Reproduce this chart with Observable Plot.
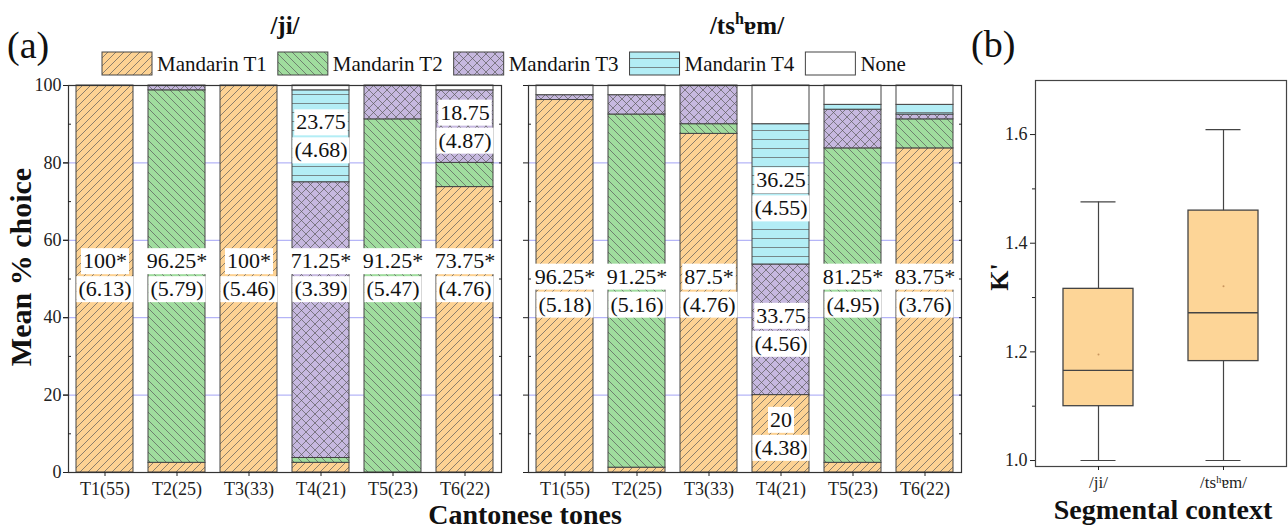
<!DOCTYPE html>
<html>
<head>
<meta charset="utf-8">
<script src="https://cdn.jsdelivr.net/npm/d3@7"></script>
<script src="https://cdn.jsdelivr.net/npm/@observablehq/plot@0.6"></script>
<style>
  body { margin: 0; background: #fff; }
  #root { position: relative; width: 1288px; height: 530px; font-family: 'Liberation Serif', 'Times New Roman', serif; }
  #root > svg { position: absolute; top: 0; }
  #root svg text, #root svg tspan { font-family: 'Liberation Serif', 'Times New Roman', serif !important; }
</style>
</head>
<body>
<div id="root"></div>
<script>
// ---------- DATA ----------
const panels = ["ji", "tsem"];
const tones = ["T1(55)", "T2(25)", "T3(33)", "T4(21)", "T5(23)", "T6(22)"];
const seriesNames = ["Mandarin T1", "Mandarin T2", "Mandarin T3", "Mandarin T4", "None"];

// /ji/ panel: mean % choice per Cantonese tone
const jiMandarinT1 = [100, 2.5, 100, 2.5, 0, 73.75];
const jiMandarinT2 = [0, 96.25, 0, 1.25, 91.25, 6.25];
const jiMandarinT3 = [0, 1.25, 0, 71.25, 8.75, 18.75];
const jiMandarinT4 = [0, 0, 0, 23.75, 0, 0];
const jiNone       = [0, 0, 0, 1.25, 0, 1.25];

// /tsʰɐm/ panel
const tsemMandarinT1 = [96.25, 1.25, 87.5, 20, 2.5, 83.75];
const tsemMandarinT2 = [0, 91.25, 2.5, 0, 81.25, 7.5];
const tsemMandarinT3 = [1.25, 5, 10, 33.75, 10, 1.25];
const tsemMandarinT4 = [0, 0, 0, 36.25, 1.25, 2.5];
const tsemNone       = [2.5, 2.5, 0, 10, 5, 5];

// labels: [tone, series, mean text, (sd) text]
const jiLabels = [
  ["T1(55)", "Mandarin T1", "100*", "(6.13)"],
  ["T2(25)", "Mandarin T2", "96.25*", "(5.79)"],
  ["T3(33)", "Mandarin T1", "100*", "(5.46)"],
  ["T4(21)", "Mandarin T3", "71.25*", "(3.39)"],
  ["T4(21)", "Mandarin T4", "23.75", "(4.68)"],
  ["T5(23)", "Mandarin T2", "91.25*", "(5.47)"],
  ["T6(22)", "Mandarin T1", "73.75*", "(4.76)"],
  ["T6(22)", "Mandarin T3", "18.75", "(4.87)"]
];
const tsemLabels = [
  ["T1(55)", "Mandarin T1", "96.25*", "(5.18)"],
  ["T2(25)", "Mandarin T2", "91.25*", "(5.16)"],
  ["T3(33)", "Mandarin T1", "87.5*", "(4.76)"],
  ["T4(21)", "Mandarin T4", "36.25", "(4.55)"],
  ["T4(21)", "Mandarin T3", "33.75", "(4.56)"],
  ["T4(21)", "Mandarin T1", "20", "(4.38)"],
  ["T5(23)", "Mandarin T2", "81.25*", "(4.95)"],
  ["T6(22)", "Mandarin T1", "83.75*", "(3.76)"]
];
// value level at which the starred (majority) labels sit in each panel
const mainLabelAt = {ji: 51, tsem: 47};

// panel (b): K' box plot summary
const boxContexts = ["/ji/", "/tsʰɐm/"];
const boxMin    = [1.0, 1.0];
const boxQ1     = [1.100, 1.183];
const boxMedian = [1.166, 1.272];
const boxQ3     = [1.316, 1.460];
const boxMax    = [1.476, 1.609];
const boxMean   = [1.195, 1.321];

// ---------- BUILD TABLES ----------
const panelSeries = {
  ji: [jiMandarinT1, jiMandarinT2, jiMandarinT3, jiMandarinT4, jiNone],
  tsem: [tsemMandarinT1, tsemMandarinT2, tsemMandarinT3, tsemMandarinT4, tsemNone]
};
const rows = [];
for (const p of panels) {
  tones.forEach((t, ti) => {
    seriesNames.forEach((s, si) => {
      const v = panelSeries[p][si][ti];
      if (v > 0) rows.push({panel: p, tone: t, series: s, value: v});
    });
  });
}
function segmentMid(p, tone, series) {
  const ti = tones.indexOf(tone);
  let start = 0;
  for (let si = 0; si < seriesNames.length; si++) {
    const v = panelSeries[p][si][ti];
    if (seriesNames[si] === series) return start + v / 2;
    start += v;
  }
  return 50;
}
const labelRows = [];
for (const [p, list] of [["ji", jiLabels], ["tsem", tsemLabels]]) {
  for (const [tone, series, mean, sd] of list) {
    const y = mean.endsWith("*") ? mainLabelAt[p] : segmentMid(p, tone, series);
    labelRows.push({panel: p, tone, series, mean, sd, y});
  }
}
const boxRows = boxContexts.map((c, i) => ({
  ctx: c, min: boxMin[i], q1: boxQ1[i], median: boxMedian[i], q3: boxQ3[i], max: boxMax[i], mean: boxMean[i]
}));

// ---------- PATTERNS ----------
const svgNS = "http://www.w3.org/2000/svg";
const root = document.getElementById("root");
const defsSvg = document.createElementNS(svgNS, "svg");
defsSvg.setAttribute("width", 0); defsSvg.setAttribute("height", 0);
defsSvg.style.left = "0px";
defsSvg.innerHTML = `
<defs>
  <pattern id="patT1" patternUnits="userSpaceOnUse" width="8" height="8">
    <rect width="8" height="8" fill="#fdd293"/>
    <path d="M-1,1 l2,-2 M0,8 l8,-8 M7,9 l2,-2" stroke="#5a5a5a" stroke-width="0.7"/>
  </pattern>
  <pattern id="patT2" patternUnits="userSpaceOnUse" width="8" height="8">
    <rect width="8" height="8" fill="#a0dc9e"/>
    <path d="M-1,7 l2,2 M0,0 l8,8 M7,-1 l2,2" stroke="#5a5a5a" stroke-width="0.7"/>
  </pattern>
  <pattern id="patT3" patternUnits="userSpaceOnUse" width="9" height="9">
    <rect width="9" height="9" fill="#c6b8df"/>
    <path d="M0,0 L9,9 M9,0 L0,9" stroke="#5a5a5a" stroke-width="0.7"/>
  </pattern>
  <pattern id="patT4" patternUnits="userSpaceOnUse" width="10" height="9">
    <rect width="10" height="9" fill="#b3edf5"/>
    <path d="M0,4.5 H10" stroke="#5a5a5a" stroke-width="0.7"/>
  </pattern>
</defs>`;
root.appendChild(defsSvg);
const seriesFills = ["url(#patT1)", "url(#patT2)", "url(#patT3)", "url(#patT4)", "white"];

const fontFamily = "Liberation Serif, Times New Roman, serif";

// ---------- PANEL (a) ----------
const chartA = Plot.plot({
  width: 975, height: 530,
  marginLeft: 68, marginRight: 14, marginTop: 85, marginBottom: 58,
  style: {fontFamily, fontSize: "18px", color: "#222", background: "transparent", overflow: "visible"},
  fx: {domain: panels, paddingInner: 0.0587, paddingOuter: 0, axis: null, label: null},
  x: {domain: tones, paddingInner: 0.205, paddingOuter: 0.1, label: null},
  y: {domain: [0, 100], label: null},
  color: {domain: seriesNames, range: seriesFills},
  marks: [
    Plot.gridY([20, 40, 60, 80, 100], {stroke: "#a3a3f5", strokeOpacity: 1}),
    Plot.barY(rows, {fx: "panel", x: "tone", y: "value", fill: "series", stroke: "#444", strokeWidth: 1}),
    Plot.text(labelRows, {fx: "panel", x: "tone", y: "y", text: "mean", dy: -14, fontSize: 22, fill: "#111"}),
    Plot.text(labelRows, {fx: "panel", x: "tone", y: "y", text: "sd", dy: 14, fontSize: 22, fill: "#111"}),
    Plot.frame({stroke: "#333", strokeWidth: 1.2}),
    Plot.axisY({ticks: [0, 20, 40, 60, 80, 100], tickSize: 5, tickPadding: 2, anchor: "left", label: null, fontSize: 18}),
    Plot.axisY({ticks: [0, 20, 40, 60, 80, 100], tickSize: 5, anchor: "left", fill: "none", label: null, facetAnchor: null}),
    Plot.axisY({ticks: [10, 30, 50, 70, 90], tickSize: 3, dx: 3, anchor: "left", fill: "none", label: null, facetAnchor: null}),
    Plot.axisY({ticks: [10, 20, 30, 40, 50, 60, 70, 80, 90], tickSize: 3, dx: -3, anchor: "right", fill: "none", label: null, facetAnchor: null}),
    Plot.axisX({tickSize: 4, tickPadding: 6, label: null, fontSize: 18})
  ]
});
chartA.style.left = "0px";
root.appendChild(chartA);

// white boxes behind the value labels
chartA.querySelectorAll('g[aria-label="text"] text').forEach(t => {
  const b = t.getBBox();
  const r = document.createElementNS(svgNS, "rect");
  r.setAttribute("x", b.x - 2);
  r.setAttribute("y", b.y);
  r.setAttribute("width", b.width + 4);
  r.setAttribute("height", b.height + 1);
  r.setAttribute("fill", "white");
  r.setAttribute("stroke", "none");
  const tr = t.getAttribute("transform");
  if (tr) r.setAttribute("transform", tr);
  t.parentNode.insertBefore(r, t);
});

// ---------- PANEL (b) ----------
const chartB = Plot.plot({
  width: 313, height: 530,
  marginLeft: 60, marginRight: 2, marginTop: 80, marginBottom: 64,
  style: {fontFamily, fontSize: "17px", color: "#222", background: "transparent", overflow: "visible"},
  x: {domain: boxContexts, paddingInner: 0.44, paddingOuter: 0.224, label: null},
  y: {domain: [0.989, 1.6995], label: null},
  marks: [
    Plot.ruleX(boxRows, {x: "ctx", y1: "min", y2: "max", stroke: "#444", strokeWidth: 1.2}),
    Plot.barY(boxRows, {x: "ctx", y1: "q1", y2: "q3", fill: "#fdd597", stroke: "#444", strokeWidth: 1.3}),
    Plot.tickY(boxRows, {x: "ctx", y: "median", stroke: "#444", strokeWidth: 1.3}),
    Plot.tickY(boxRows, {x: "ctx", y: "min", stroke: "#444", strokeWidth: 1.2, insetLeft: 17.5, insetRight: 17.5}),
    Plot.tickY(boxRows, {x: "ctx", y: "max", stroke: "#444", strokeWidth: 1.2, insetLeft: 17.5, insetRight: 17.5}),
    Plot.dot(boxRows, {x: "ctx", y: "mean", r: 1, fill: "#c9965f", stroke: "none"}),
    Plot.frame({stroke: "#444", strokeWidth: 1.2}),
    Plot.axisY({ticks: [1.0, 1.2, 1.4, 1.6], tickFormat: ".1f", tickSize: 5, tickPadding: 3, label: null, fontSize: 18}),
    Plot.axisY({ticks: [1.1, 1.3, 1.5], tickSize: 3, fill: "none", label: null}),
    Plot.axisX({tickSize: 4, tickPadding: 5, label: null, fontSize: 17})
  ]
});
chartB.style.left = "975px";
root.appendChild(chartB);

// ---------- OVERLAY TEXT & LEGEND ----------
const ov = document.createElementNS(svgNS, "svg");
ov.setAttribute("width", 1288); ov.setAttribute("height", 530);
ov.style.left = "0px"; ov.style.pointerEvents = "none";
root.appendChild(ov);

function addText(str, attrs, html) {
  const t = document.createElementNS(svgNS, "text");
  for (const k in attrs) t.setAttribute(k, attrs[k]);
  if (html) t.innerHTML = str; else t.textContent = str;
  t.setAttribute("fill", attrs.fill || "#111");
  ov.appendChild(t);
  return t;
}

addText("(a)", {x: 7, y: 58, "font-size": 38});
addText("(b)", {x: 971, y: 57, "font-size": 38});
addText("/ji/", {x: 285, y: 34, "font-size": 25, "font-weight": "bold", "text-anchor": "middle"});
addText('/ts<tspan dy="-10" font-size="16">h</tspan><tspan dy="10">ɐm/</tspan>',
  {x: 747, y: 34, "font-size": 25, "font-weight": "bold", "text-anchor": "middle"}, true);
addText("Mean % choice", {transform: "translate(31,267) rotate(-90)", "font-size": 30, "font-weight": "bold", "text-anchor": "middle"});
addText("Cantonese tones", {x: 525, y: 524, "font-size": 28, "font-weight": "bold", "text-anchor": "middle"});
addText("Segmental context", {x: 1163, y: 519, "font-size": 28, "font-weight": "bold", "text-anchor": "middle"});
addText("K'", {transform: "translate(1008,277) rotate(-90)", "font-size": 26, "font-weight": "bold", "text-anchor": "middle"});

// legend
let lx = 102;
seriesNames.forEach((s, i) => {
  const r = document.createElementNS(svgNS, "rect");
  r.setAttribute("x", lx); r.setAttribute("y", 52);
  r.setAttribute("width", 50); r.setAttribute("height", 23);
  r.setAttribute("fill", seriesFills[i]);
  r.setAttribute("stroke", "#444"); r.setAttribute("stroke-width", 1);
  ov.appendChild(r);
  lx += 55;
  const t = addText(s, {x: lx, y: 71, "font-size": 21});
  lx += t.getComputedTextLength() + 11;
});
</script>
</body>
</html>
